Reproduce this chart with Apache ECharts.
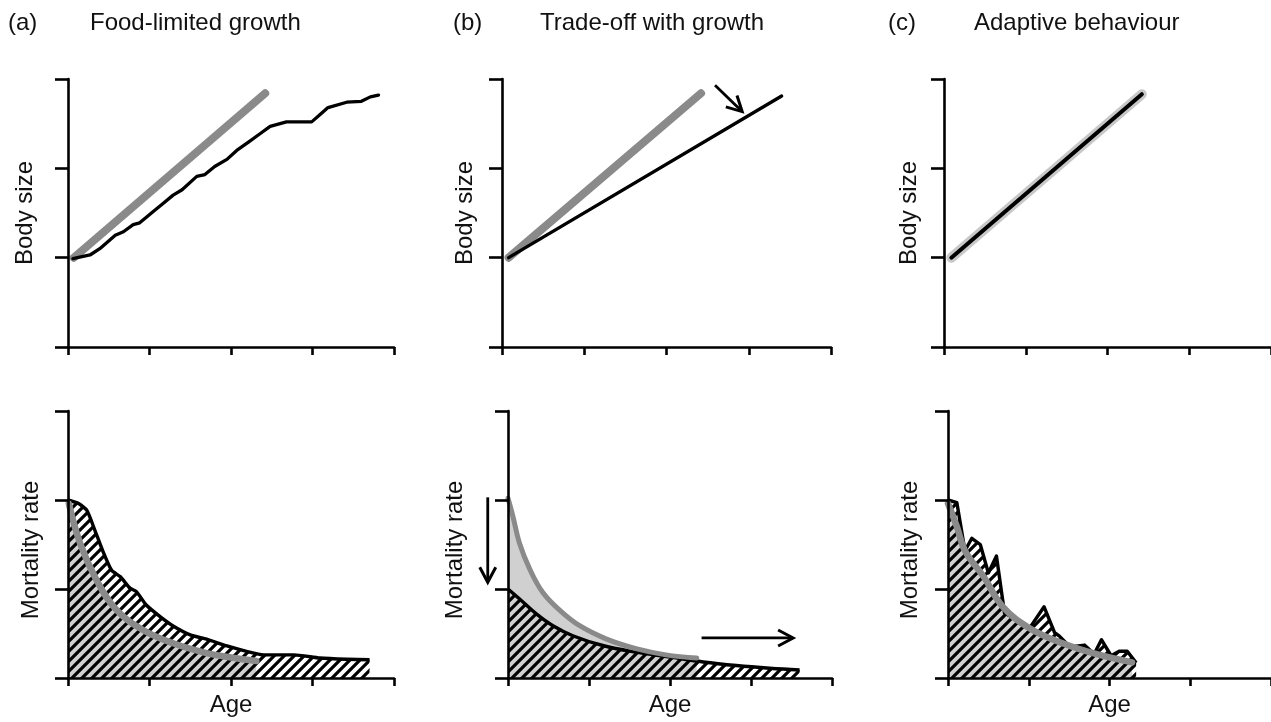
<!DOCTYPE html>
<html>
<head>
<meta charset="utf-8">
<script src="https://cdn.jsdelivr.net/npm/echarts@6/dist/echarts.min.js"></script>
<style>
html,body{margin:0;padding:0;background:#fff;}
#main{width:1271px;height:722px;}
</style>
</head>
<body>
<div id="main"></div>
<script>
// ---- data ----
var panelLetters=['(a)','(b)','(c)'];
var panelTitles=['Food-limited growth','Trade-off with growth','Adaptive behaviour'];
var ageTicks=[0,4,1];      // min,max,interval
var valueTicks=[0,3,1];

// (a) food-limited growth
var sizeRefA=[[0.07,1.0],[2.42,2.84]];
var sizeFoodA=[[0.06,0.99],[0.27,1.03],[0.39,1.10],[0.58,1.25],[0.68,1.29],[0.80,1.37],[0.88,1.39],[1.05,1.52],[1.17,1.61],[1.29,1.70],[1.40,1.76],[1.58,1.91],[1.68,1.93],[1.80,2.02],[1.95,2.10],[2.07,2.20],[2.21,2.29],[2.36,2.39],[2.48,2.47],[2.68,2.52],[2.99,2.52],[3.09,2.60],[3.19,2.68],[3.42,2.74],[3.60,2.75],[3.71,2.80],[3.81,2.82]];
var mortFoodA=[[0,2.0],[0.13,1.96],[0.23,1.885],[0.33,1.66],[0.43,1.42],[0.535,1.21],[0.64,1.14],[0.76,1.01],[0.84,0.97],[0.96,0.82],[1.13,0.69],[1.29,0.585],[1.50,0.485],[1.70,0.436],[1.95,0.36],[2.19,0.30],[2.40,0.26],[2.77,0.26],[3.09,0.224],[3.42,0.21],[3.70,0.205]];
var mortRefA=[[0.01,1.96],[0.15,1.51],[0.35,1.10],[0.59,0.77],[0.92,0.54],[1.29,0.39],[1.70,0.28],[2.0,0.23],[2.31,0.19]];

// (b) trade-off with growth
var sizeRefB=[[0.08,1.0],[2.42,2.84]];
var sizeTradeB=[[0.08,1.0],[3.40,2.81]];
var arrowsTopB=[[2.59,2.93,2.92,2.635]];
var mortTradeB=[[0,1.0],[0.14,0.89],[0.35,0.72],[0.55,0.59],[0.80,0.475],[1.17,0.365],[1.58,0.29],[2.0,0.235],[2.41,0.18],[2.82,0.14],[3.23,0.11],[3.60,0.09]];
var mortRefB=[[0,2.02],[0.06,1.82],[0.14,1.52],[0.27,1.22],[0.43,0.96],[0.64,0.76],[0.88,0.59],[1.21,0.44],[1.58,0.33],[1.95,0.26],[2.33,0.225]];
var arrowsBottomB=[[-0.25,2.03,-0.25,1.075],[2.39,0.45,3.52,0.45]];

// (c) adaptive behaviour
var sizeAdaptC=[[0.09,1.0],[2.42,2.83]];
var mortAdaptC=[[0,2.0],[0.11,1.97],[0.21,1.43],[0.295,1.57],[0.40,1.50],[0.50,1.18],[0.60,1.37],[0.70,0.73],[0.85,0.655],[1.01,0.56],[1.19,0.80],[1.32,0.51],[1.38,0.47],[1.51,0.35],[1.69,0.37],[1.81,0.27],[1.90,0.43],[2.02,0.25],[2.12,0.30],[2.22,0.30],[2.33,0.17]];
var mortRefC=[[0,1.96],[0.11,1.70],[0.21,1.43],[0.44,1.14],[0.68,0.80],[1.01,0.56],[1.42,0.39],[1.83,0.27],[2.28,0.175]];

var FONT='Liberation Sans, Arial, sans-serif';
var GREY='#8a8a8a', LIGHT='#d0d0d0';

/*hatch pattern: black diagonal stripes on transparent*/
function hatch(){
	var s=10,c=document.createElement('canvas');
	c.width=s;c.height=s;
	var g=c.getContext('2d');
	g.strokeStyle='#000';g.lineWidth=3.2;
	g.beginPath();
	g.moveTo(-2,2);g.lineTo(2,-2);
	g.moveTo(0,s);g.lineTo(s,0);
	g.moveTo(s-2,s+2);g.lineTo(s+2,s-2);
	g.stroke();
	return c;
}
var hatchImg=hatch();

var grids=[
	{left:68,top:79,width:326,height:268},
	{left:502,top:79,width:329,height:268},
	{left:944,top:79,width:327,height:268},
	{left:68,top:411,width:326,height:267},
	{left:508,top:411,width:324,height:267},
	{left:948,top:411,width:323,height:267}
];
var yNames=['Body size','Body size','Body size','Mortality rate','Mortality rate','Mortality rate'];
var yGaps=[31,25,23,25,41,26];

var axisLine={show:true,lineStyle:{color:'#000',width:2.6}};
var xAxes=[],yAxes=[];
for(let i=0;i<6;i++){
	xAxes.push({type:'value',gridIndex:i,min:ageTicks[0],max:ageTicks[1],interval:ageTicks[2],z:10,
		axisLine:axisLine,axisTick:{show:true,length:8,lineStyle:{color:'#000',width:2.6}},
		axisLabel:{show:false},splitLine:{show:false},
		name:i>2?'Age':'',nameLocation:'middle',nameGap:15,
		nameTextStyle:{fontFamily:FONT,fontSize:24,color:'#111'}});
	yAxes.push({type:'value',gridIndex:i,min:valueTicks[0],max:valueTicks[1],interval:valueTicks[2],z:10,
		axisLine:axisLine,axisTick:{show:true,length:13,lineStyle:{color:'#000',width:2.6}},
		axisLabel:{show:false},splitLine:{show:false},
		name:yNames[i],nameLocation:'middle',nameGap:yGaps[i],
		nameTextStyle:{fontFamily:FONT,fontSize:24,color:'#111',padding:i>2?[0,11,0,0]:0}});
}

function line(idx,data,color,width,smooth){
	return {type:'line',xAxisIndex:idx,yAxisIndex:idx,data:data,symbol:'none',smooth:smooth||0,
		lineStyle:{color:color,width:width,cap:'round',join:'round'},animation:false,silent:true};
}
function greyArea(idx,data){
	return {type:'line',xAxisIndex:idx,yAxisIndex:idx,data:data,symbol:'none',smooth:0.4,
		lineStyle:{width:0},areaStyle:{color:LIGHT,opacity:1},animation:false,silent:true};
}
function hatchArea(idx,data,smooth){
	return {type:'line',xAxisIndex:idx,yAxisIndex:idx,data:data,symbol:'none',smooth:smooth||0,
		lineStyle:{color:'#000',width:3.4,join:'round'},
		areaStyle:{color:{image:hatchImg,repeat:'repeat'},opacity:1},animation:false,silent:true};
}
function renderArrow(params,api){
	var p1=api.coord([api.value(0),api.value(1)]);
	var p2=api.coord([api.value(2),api.value(3)]);
	var ang=Math.atan2(p2[1]-p1[1],p2[0]-p1[0]);
	var L=15,W=8;
	var bx=p2[0]-L*Math.cos(ang),by=p2[1]-L*Math.sin(ang);
	var h1=[bx+W*Math.sin(ang),by-W*Math.cos(ang)];
	var h2=[bx-W*Math.sin(ang),by+W*Math.cos(ang)];
	return {type:'group',children:[
		{type:'line',shape:{x1:p1[0],y1:p1[1],x2:p2[0]-1.5*Math.cos(ang),y2:p2[1]-1.5*Math.sin(ang)},style:{stroke:'#000',lineWidth:2.8}},
		{type:'polyline',shape:{points:[h1,p2,h2]},style:{stroke:'#000',lineWidth:3,fill:null,lineJoin:'miter'}}
	]};
}
function arrows(idx,data){
	return {type:'custom',xAxisIndex:idx,yAxisIndex:idx,data:data,renderItem:renderArrow,
		encode:{x:[0,2],y:[1,3]},clip:false,animation:false,silent:true,z:6};
}

var titles=[];
var letterLeft=[8,453,888],titleLeft=[90,540,974];
for(let i=0;i<3;i++){
	titles.push({text:panelLetters[i],left:letterLeft[i],top:11,padding:0,
		textStyle:{fontFamily:FONT,fontSize:24,fontWeight:'normal',color:'#111'}});
	titles.push({text:panelTitles[i],left:titleLeft[i],top:11,padding:0,
		textStyle:{fontFamily:FONT,fontSize:24,fontWeight:'normal',color:'#111'}});
}

var chart=echarts.init(document.getElementById('main'));
chart.setOption({
	backgroundColor:'#fff',
	animation:false,
	title:titles,
	grid:grids,
	xAxis:xAxes,
	yAxis:yAxes,
	series:[
		// top row
		line(0,sizeRefA,GREY,8),
		line(0,sizeFoodA,'#000',3.3),
		line(1,sizeRefB,GREY,8),
		line(1,sizeTradeB,'#000',3.3),
		arrows(1,arrowsTopB),
		line(2,sizeAdaptC,'#c8c8c8',10),
		line(2,sizeAdaptC,'#000',4),
		// bottom row
		greyArea(3,mortRefA),
		hatchArea(3,mortFoodA,0.2),
		line(3,mortRefA,GREY,6.5,0.4),
		greyArea(4,mortRefB),
		hatchArea(4,mortTradeB,0.4),
		line(4,mortRefB,GREY,5,0.4),
		arrows(4,arrowsBottomB),
		greyArea(5,mortRefC),
		hatchArea(5,mortAdaptC,0),
		line(5,mortRefC,GREY,6.5,0.4)
	]
});
</script>
</body>
</html>
